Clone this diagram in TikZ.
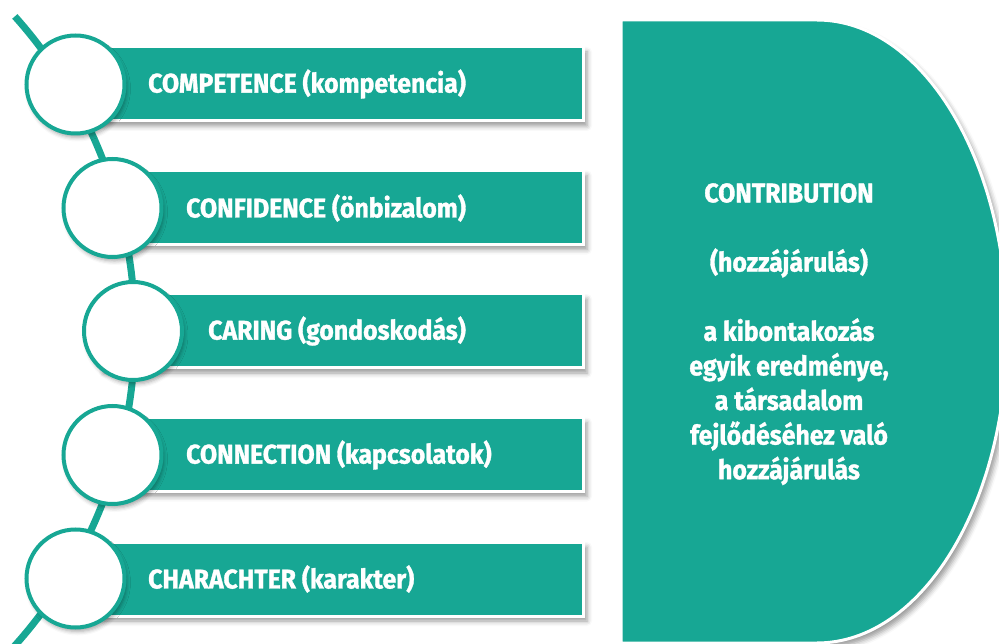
\documentclass[tikz,border=0pt]{standalone}
\usepackage{fontspec}
\setmainfont{Fira Sans}[FakeStretch=0.92, BoldFeatures={FakeBold=1.2}]
\usetikzlibrary{shadows.blur}
\definecolor{tealA}{RGB}{23,167,148}
\begin{document}
\begin{tikzpicture}[x=1pt,y=-1pt,
  shad/.style={blur shadow={shadow xshift=4pt, shadow yshift=-5pt, shadow blur radius=5pt, shadow opacity=40}},
  bar/.style={rectangle, fill=tealA, draw=white, line width=3pt, minimum width=483pt, minimum height=74pt, inner sep=0pt, shad},
  circ/.style={circle, fill=white, draw=tealA, line width=4pt, minimum size=98pt, inner sep=0pt, blur shadow={shadow xshift=2pt, shadow yshift=-4pt, shadow blur radius=4pt, shadow opacity=35}},
  lab/.style={text=white, font=\fontsize{27}{30}\selectfont\bfseries, anchor=west, inner sep=0pt},
  rtext/.style={text=white, font=\fontsize{27}{34.6}\selectfont\bfseries, align=center, anchor=north, inner sep=0pt}]
\useasboundingbox (0,0) rectangle (999,644);
\clip (0,0) rectangle (999,644);
% bars
\node[bar] (b1) at (341.5,84) {};
\node[bar] (b2) at (341.5,207.5) {};
\node[bar] (b3) at (341.5,331) {};
\node[bar] (b4) at (341.5,454.5) {};
\node[bar] (b5) at (341.5,579) {};
% big D shape
\path[fill=tealA, draw=white, line width=3pt, shad]
  (621,20) -- (817,20) arc[start angle=-90, end angle=90, x radius=190, y radius=311.5] -- (621,643) -- cycle;
% arc
\draw[tealA, line width=7pt] (-337,331) ++(-41.8:472) arc[start angle=-41.8, end angle=43, radius=472];
% circles
\node[circ] (c1) at (75.5,84.5) {};
\node[circ] (c2) at (112.5,208) {};
\node[circ] (c3) at (133,331) {};
\node[circ] (c4) at (112.5,455) {};
\node[circ] (c5) at (75.5,578.5) {};
% labels
\node[lab] (l1) at (148,84) {COMPETENCE (kompetencia)};
\node[lab] (l2) at (186,208) {CONFIDENCE (önbizalom)};
\node[lab] (l3) at (208,331) {CARING (gondoskodás)};
\node[lab] (l4) at (186,455) {CONNECTION (kapcsolatok)};
\node[lab] (l5) at (148,579) {CHARACHTER (karakter)};
\node[rtext] (rt) at (789,183) {CONTRIBUTION\\[34.6pt](hozzájárulás)\\[34.6pt]a kibontakozás\\egyik eredménye,\\a társadalom\\fejlődéséhez való\\hozzájárulás};
\end{tikzpicture}
\end{document}
